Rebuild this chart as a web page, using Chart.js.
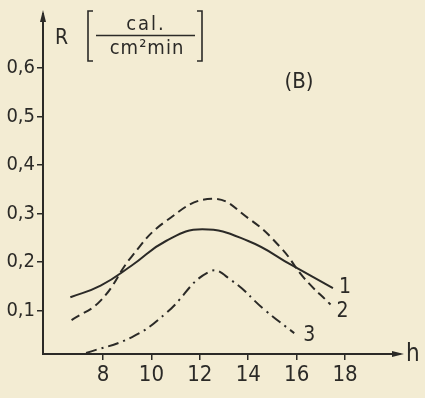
<!DOCTYPE html>
<html>
<head>
<meta charset="utf-8">
<script src="https://cdn.jsdelivr.net/npm/chart.js@4"></script>
<style>
  html, body { margin: 0; padding: 0; background: #f3ecd3; }
  #wrap { width: 425px; height: 398px; position: relative; }
</style>
</head>
<body>
<div id="wrap"><canvas id="chart"></canvas></div>
<script>
const INK = '#2b2a27';
const FONT = "'Liberation Sans Narrow', 'DejaVu Sans Condensed', 'Liberation Sans', sans-serif";

// hours (h) and radiation R [cal/cm2 min]
const hours1 = [6.65, 7.9, 9.2, 10.6, 12.1, 14.0, 15.8, 17.5];
const curve1 = [0.127, 0.151, 0.193, 0.243, 0.267, 0.243, 0.193, 0.146];

const hours2 = [6.7, 7.9, 9.2, 10.6, 12.5, 14.0, 15.35, 16.3, 17.4];
const curve2 = [0.08, 0.12, 0.212, 0.284, 0.33, 0.29, 0.229, 0.167, 0.112];

const hours3 = [7.3, 9.2, 10.6, 12.4, 13.3, 14.7, 15.9];
const curve3 = [0.012, 0.045, 0.094, 0.18, 0.162, 0.10, 0.053];

const seriesLabels = ['1', '2', '3'];
const xTicks = [8, 10, 12, 14, 16, 18];
const yTicks = [0.1, 0.2, 0.3, 0.4, 0.5, 0.6];
const yTickLabels = ['0,1', '0,2', '0,3', '0,4', '0,5', '0,6'];

function pts(xs, ys) {
    return xs.map((x, i) => ({ x: x, y: ys[i] }));
}

// offsets of the curve numbers from the last point of each curve
const labelOffsets = [[9, 0], [9, 7], [12, 2]];

const decor = {
    id: 'decor',
    beforeDraw(chart) {
        const ctx = chart.ctx;
        ctx.save();
        ctx.fillStyle = '#f3ecd3';
        ctx.fillRect(0, 0, chart.width, chart.height);
        ctx.restore();
    },
    afterDraw(chart) {
        const ctx = chart.ctx;
        const xs = chart.scales.x, ys = chart.scales.y;
        const a = chart.chartArea;
        ctx.save();
        ctx.strokeStyle = INK;
        ctx.fillStyle = INK;
        ctx.lineWidth = 2;

        // arrow heads
        ctx.beginPath();
        ctx.moveTo(a.left, a.top - 4);
        ctx.lineTo(a.left - 3, a.top + 8);
        ctx.lineTo(a.left + 3, a.top + 8);
        ctx.closePath();
        ctx.fill();
        ctx.beginPath();
        ctx.moveTo(a.right + 4, a.bottom);
        ctx.lineTo(a.right - 8, a.bottom - 3);
        ctx.lineTo(a.right - 8, a.bottom + 3);
        ctx.closePath();
        ctx.fill();

        ctx.font = '24px ' + FONT;
        ctx.textBaseline = 'middle';
        ctx.textAlign = 'left';
        ctx.fillText('h', a.right + 6, a.bottom + 1);

        // curve numbers
        chart.data.datasets.forEach((ds, i) => {
            const last = ds.data[ds.data.length - 1];
            const px = xs.getPixelForValue(last.x) + labelOffsets[i][0];
            const py = ys.getPixelForValue(last.y) + labelOffsets[i][1];
            ctx.font = '21px ' + FONT;
            ctx.textAlign = 'center';
            ctx.fillText(seriesLabels[i], px + 3, py);
        });

        // axis title R [cal./cm2 min]
        ctx.textAlign = 'left';
        ctx.font = '21px ' + FONT;
        ctx.fillText('R', 55, 39);
        ctx.lineWidth = 1.6;
        ctx.beginPath();
        ctx.moveTo(93, 11); ctx.lineTo(88, 11); ctx.lineTo(88, 61); ctx.lineTo(93, 61);
        ctx.moveTo(197, 11); ctx.lineTo(202, 11); ctx.lineTo(202, 61); ctx.lineTo(197, 61);
        ctx.moveTo(96, 35.5); ctx.lineTo(195, 35.5);
        ctx.stroke();
        ctx.textAlign = 'center';
        ctx.font = '20px ' + FONT;
        ctx.letterSpacing = '2px';
        ctx.fillText('cal.', 146, 25);
        ctx.letterSpacing = '1px';
        ctx.fillText('cm²min', 147, 49);
        ctx.letterSpacing = '0px';

        ctx.font = '22px ' + FONT;
        ctx.fillText('(B)', 299, 82);
        ctx.restore();
    }
};

const lineStyle = {
    borderColor: INK,
    borderWidth: 2,
    pointRadius: 0,
    tension: 0.45,
    fill: false
};

new Chart(document.getElementById('chart'), {
    type: 'line',
    data: {
        datasets: [
            Object.assign({ label: seriesLabels[0], data: pts(hours1, curve1) }, lineStyle),
            Object.assign({ label: seriesLabels[1], data: pts(hours2, curve2), borderDash: [9, 5] }, lineStyle),
            Object.assign({ label: seriesLabels[2], data: pts(hours3, curve3), borderDash: [11, 5, 2, 5] }, lineStyle)
        ]
    },
    options: {
        responsive: true,
        maintainAspectRatio: false,
        animation: false,
        layout: { padding: { top: 8, right: 25, left: 0, bottom: 0 } },
        plugins: { legend: { display: false }, tooltip: { enabled: false } },
        scales: {
            x: {
                type: 'linear',
                min: 5.52,
                max: 20.27,
                afterFit: s => { s.height = 44; },
                afterBuildTicks: s => { s.ticks = xTicks.map(v => ({ value: v })); },
                grid: { drawOnChartArea: false, drawTicks: true, tickLength: 6, color: INK, lineWidth: 1.5 },
                border: { display: true, color: INK, width: 2 },
                ticks: { color: INK, font: { family: FONT, size: 22 }, padding: 2, maxRotation: 0 }
            },
            y: {
                min: 0.01,
                max: 0.711,
                afterFit: s => { s.width = 43; },
                afterBuildTicks: s => { s.ticks = yTicks.map(v => ({ value: v })); },
                grid: { drawOnChartArea: false, drawTicks: true, tickLength: 6, color: INK, lineWidth: 1.5 },
                border: { display: true, color: INK, width: 2 },
                ticks: {
                    color: INK,
                    font: { family: FONT, size: 20 },
                    padding: 2,
                    callback: (v) => {
                        const i = yTicks.findIndex(t => Math.abs(t - v) < 1e-6);
                        return i >= 0 ? yTickLabels[i] : '';
                    }
                }
            }
        }
    },
    plugins: [decor]
});
</script>
</body>
</html>
